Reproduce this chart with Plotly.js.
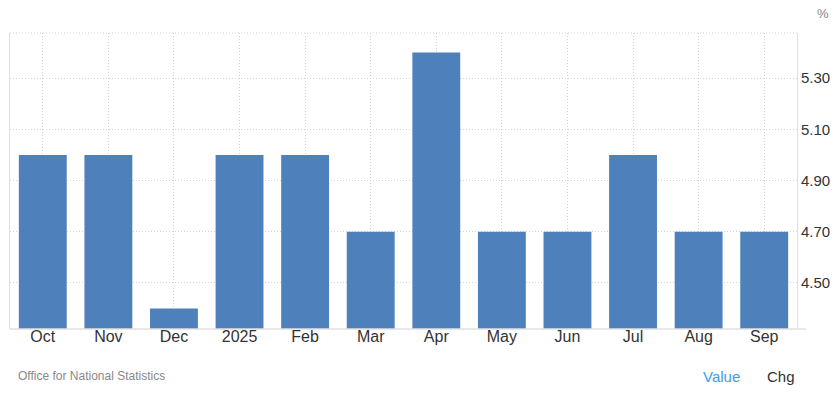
<!DOCTYPE html>
<html>
<head>
<meta charset="utf-8">
<script src="https://cdn.plot.ly/plotly-3.0.1.min.js"></script>
<style>
html,body{margin:0;padding:0;background:#fff;}
#chart{width:840px;height:400px;}
</style>
</head>
<body>
<div id="chart"></div>
<script>
const categories = ["Oct","Nov","Dec","2025","Feb","Mar","Apr","May","Jun","Jul","Aug","Sep"];
const values = [5.0, 5.0, 4.4, 5.0, 5.0, 4.7, 5.4, 4.7, 4.7, 5.0, 4.7, 4.7];
const yTicks = [4.5, 4.7, 4.9, 5.1, 5.3];
const yTickLabels = ["4.50","4.70","4.90","5.10","5.30"];

const trace = {
  type: "bar",
  x: categories,
  y: values,
  marker: {color: "#4e80bc"},
  hoverinfo: "x+y"
};

const dotted = "1px,2px";

const layout = {
  width: 840, height: 400,
  margin: {l: 10, r: 43, t: 33, b: 71},
  paper_bgcolor: "#fff",
  plot_bgcolor: "#fff",
  bargap: 0.27,
  showlegend: false,
  font: {family: "Liberation Sans, Arial, sans-serif", color: "#333"},
  xaxis: {
    type: "category",
    showgrid: true,
    gridcolor: "#d4d4d4",
    griddash: dotted,
    gridwidth: 1,
    showline: false,
    zeroline: false,
    ticks: "",
    ticklabelstandoff: -4,
    tickfont: {size: 16, color: "#333"},
    fixedrange: true
  },
  yaxis: {
    side: "right",
    range: [4.32, 5.476],
    tickvals: yTicks,
    ticktext: yTickLabels,
    showgrid: true,
    gridcolor: "#d4d4d4",
    griddash: dotted,
    gridwidth: 1,
    zeroline: false,
    showline: true,
    linecolor: "#e0e0e0",
    linewidth: 1,
    mirror: true,
    ticks: "",
    tickfont: {size: 15, color: "#333"},
    fixedrange: true
  },
  shapes: [
    {type: "line", xref: "paper", yref: "paper", x0: 0, x1: 1, y0: 1, y1: 1,
     line: {color: "#d4d4d4", width: 1, dash: dotted}},
    {type: "line", xref: "paper", yref: "paper", x0: 0, x1: 1.0114, y0: 0, y1: 0,
     line: {color: "#e0e0e0", width: 1.5}}
  ],
  annotations: [
    {text: "%", xref: "paper", yref: "paper", x: 1.0, y: 1, xanchor: "left", yanchor: "bottom",
     xshift: 18, yshift: 10, showarrow: false, font: {size: 13, color: "#888"}},
    {text: "Office for National Statistics", xref: "paper", yref: "paper", x: 0, y: 0,
     xanchor: "left", yanchor: "middle", xshift: 6, yshift: -47, showarrow: false,
     font: {size: 12, color: "#888"}},
    {text: "Value", xref: "paper", yref: "paper", x: 0, y: 0, xanchor: "left", yanchor: "middle",
     xshift: 691, yshift: -47, showarrow: false, font: {size: 15, color: "#3b9cf0"}},
    {text: "Chg", xref: "paper", yref: "paper", x: 0, y: 0, xanchor: "left", yanchor: "middle",
     xshift: 755, yshift: -47, showarrow: false, font: {size: 15, color: "#333"}}
  ]
};

Plotly.newPlot("chart", [trace], layout, {displayModeBar: false, staticPlot: true});
</script>
</body>
</html>
